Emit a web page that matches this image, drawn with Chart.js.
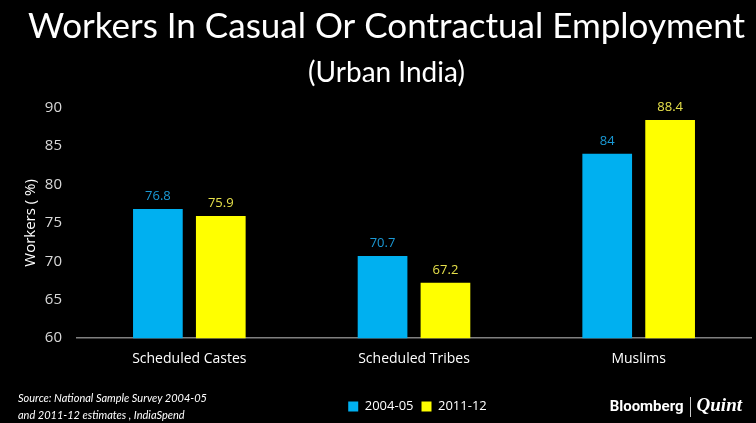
<!DOCTYPE html>
<html>
<head>
<meta charset="utf-8">
<script src="https://cdn.jsdelivr.net/npm/chart.js@4/dist/chart.umd.min.js"></script>
<style>
  html, body { margin: 0; padding: 0; background: #000; }
  #wrap { position: relative; width: 756px; height: 423px; background: #000; }
  #source { position: absolute; left: 18px; top: 389px; color: #fff; font: italic 11px Lato, sans-serif; line-height: 17px; }
  #logo { position: absolute; right: 14px; top: 394px; color: #fff; font: bold 15px "Liberation Sans Narrow", Roboto, sans-serif; }
  #logo .sep { display: inline-block; width: 1px; height: 20px; background: #ccc; vertical-align: middle; margin: 0 6px; }
  #logo .q { font: italic bold 19px "Liberation Serif", serif; }
</style>
</head>
<body>
<div id="wrap">
  <canvas id="myChart" width="756" height="423"></canvas>
  <div id="source">Source: National Sample Survey 2004-05<br>and 2011-12 estimates , IndiaSpend</div>
  <div id="logo">Bloomberg<span class="sep"></span><span class="q">Quint</span></div>
</div>
<script>
const categories = ["Scheduled Castes", "Scheduled Tribes", "Muslims"];
const values2004 = [76.8, 70.7, 84];
const values2011 = [75.9, 67.2, 88.4];
const yTicks = [60, 65, 70, 75, 80, 85, 90];

const blue = "#00b0f0";
const yellow = "#ffff00";

const valueLabels = {
  id: "valueLabels",
  afterDatasetsDraw(chart) {
    const ctx = chart.ctx;
    ctx.save();
    ctx.font = "13px 'Open Sans', sans-serif";
    ctx.textAlign = "center";
    ctx.textBaseline = "bottom";
    chart.data.datasets.forEach(function(ds, i) {
      const meta = chart.getDatasetMeta(i);
      ctx.fillStyle = ds.labelColor;
      meta.data.forEach(function(bar, j) {
        ctx.fillText(String(ds.data[j]), bar.x, bar.y - 6);
      });
    });
    ctx.restore();
  }
};

// legend sits a bit right of centre and lower in the original
const legendShift = {
  id: "legendShift",
  afterLayout(chart) {
    const lg = chart.legend;
    lg.left += 31; lg.right += 31;
    lg.top += 21; lg.bottom += 21;
  }
};

Chart.defaults.font.family = "'Open Sans', sans-serif";
Chart.defaults.color = "#d9d9d9";

new Chart(document.getElementById("myChart").getContext("2d"), {
  type: "bar",
  data: {
    labels: categories,
    datasets: [{
      label: "2004-05",
      data: values2004,
      backgroundColor: blue,
      labelColor: "#1a9ad6"
    }, {
      label: "2011-12",
      data: values2011,
      backgroundColor: yellow,
      labelColor: "#e6e04a"
    }]
  },
  options: {
    responsive: false,
    animation: false,
    layout: { padding: { left: 22, right: 5, top: 0, bottom: 21 } },
    datasets: {
      bar: { barPercentage: 0.79, categoryPercentage: 0.56 }
    },
    plugins: {
      title: {
        display: true,
        text: "Workers In Casual Or Contractual Employment",
        color: "#fff",
        font: { family: "Lato", size: 35, weight: "normal" },
        padding: { top: 6, bottom: 2 }
      },
      subtitle: {
        display: true,
        text: "(Urban India)",
        color: "#fff",
        font: { family: "Lato", size: 28, weight: "normal" },
        padding: { top: 6, bottom: 18 }
      },
      legend: {
        position: "bottom",
        labels: {
          color: "#fff",
          font: { family: "'Open Sans', sans-serif", size: 13 },
          boxWidth: 10,
          boxHeight: 10,
          padding: 8
        }
      },
      tooltip: { enabled: false }
    },
    scales: {
      x: {
        grid: { display: false },
        border: { display: true, color: "#808080", width: 1.5 },
        ticks: { color: "#fff", font: { size: 14 }, padding: 4 }
      },
      y: {
        min: 60,
        max: 90,
        afterFit(scale) { scale.width = 55; },
        afterBuildTicks(scale) { scale.ticks = yTicks.map(v => ({ value: v })); },
        grid: { display: false },
        border: { display: false },
        ticks: { color: "#d9d9d9", font: { size: 15 }, padding: 7 },
        title: {
          display: true,
          text: "Workers ( %)",
          color: "#fff",
          font: { size: 15 },
          padding: 0
        }
      }
    }
  },
  plugins: [valueLabels, legendShift]
});
</script>
</body>
</html>
